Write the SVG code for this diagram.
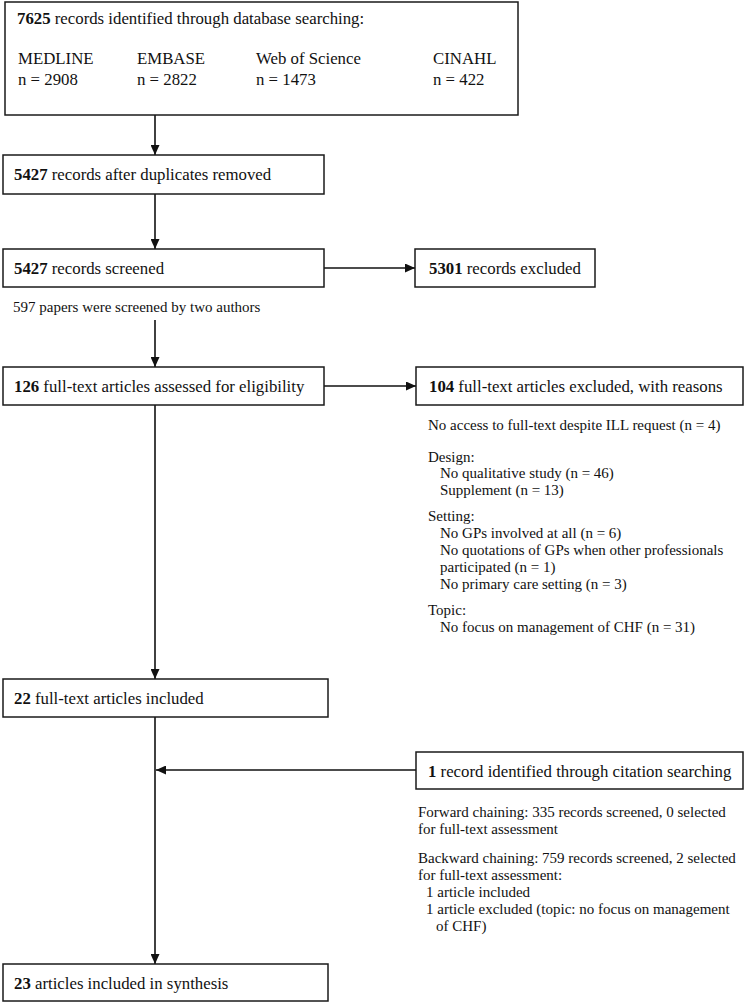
<svg xmlns="http://www.w3.org/2000/svg" width="750" height="1004" viewBox="0 0 750 1004">
<style>
.box{fill:#fff;stroke:#1a1a1a;stroke-width:1.5}
.t{font-family:"Liberation Serif","Times New Roman",serif;font-size:16.8px;fill:#111}
.s{font-family:"Liberation Serif","Times New Roman",serif;font-size:15px;fill:#111}
.b{font-weight:bold}
.c{stroke:#111;stroke-width:1.6;fill:none}
</style>
<defs>
<marker id="ah" markerUnits="userSpaceOnUse" markerWidth="10" markerHeight="9" refX="10" refY="4.5" orient="auto">
<path d="M0,0 L10,4.5 L0,9 z" fill="#111"/>
</marker>
</defs>
<rect width="750" height="1004" fill="#fff"/>

<g id="connectors">
<line class="c" x1="155" y1="115" x2="155" y2="155" marker-end="url(#ah)"/>
<line class="c" x1="155" y1="194" x2="155" y2="249" marker-end="url(#ah)"/>
<line class="c" x1="324" y1="268" x2="415" y2="268" marker-end="url(#ah)"/>
<line class="c" x1="155" y1="320" x2="155" y2="367" marker-end="url(#ah)"/>
<line class="c" x1="324" y1="386" x2="416" y2="386" marker-end="url(#ah)"/>
<line class="c" x1="155" y1="405" x2="155" y2="679" marker-end="url(#ah)"/>
<line class="c" x1="155" y1="717" x2="155" y2="964" marker-end="url(#ah)"/>
<line class="c" x1="416" y1="770" x2="156" y2="770" marker-end="url(#ah)"/>
</g>

<g id="n-identified">
<rect class="box" x="5" y="2" width="513" height="113"/>
<text class="t" x="17" y="24"><tspan class="b">7625</tspan> records identified through database searching:</text>
<text class="t" x="18" y="64">MEDLINE</text>
<text class="t" x="18" y="85">n = 2908</text>
<text class="t" x="137" y="64">EMBASE</text>
<text class="t" x="137" y="85">n = 2822</text>
<text class="t" x="256" y="64">Web of Science</text>
<text class="t" x="256" y="85">n = 1473</text>
<text class="t" x="433" y="64">CINAHL</text>
<text class="t" x="433" y="85">n = 422</text>
</g>

<g id="n-duplicates">
<rect class="box" x="3" y="155" width="321" height="39"/>
<text class="t" x="14" y="180"><tspan class="b">5427</tspan> records after duplicates removed</text>
</g>

<g id="n-screened">
<rect class="box" x="3" y="249" width="321" height="38"/>
<text class="t" x="14" y="274"><tspan class="b">5427</tspan> records screened</text>
<text class="s" x="13" y="312">597 papers were screened by two authors</text>
</g>

<g id="n-excluded">
<rect class="box" x="415" y="249" width="180" height="38"/>
<text class="t" x="429" y="274"><tspan class="b">5301</tspan> records excluded</text>
</g>

<g id="n-assessed">
<rect class="box" x="3" y="367" width="321" height="38"/>
<text class="t" x="14" y="392"><tspan class="b">126</tspan> full-text articles assessed for eligibility</text>
</g>

<g id="n-ft-excluded">
<rect class="box" x="416" y="367" width="327" height="38"/>
<text class="t" x="429" y="392"><tspan class="b">104</tspan> full-text articles excluded, with reasons</text>
<text class="s" x="428" y="430">No access to full-text despite ILL request (n = 4)</text>
<text class="s" x="428" y="462">Design:</text>
<text class="s" x="440" y="478">No qualitative study (n = 46)</text>
<text class="s" x="440" y="495">Supplement (n = 13)</text>
<text class="s" x="428" y="521">Setting:</text>
<text class="s" x="440" y="538">No GPs involved at all (n = 6)</text>
<text class="s" x="440" y="555">No quotations of GPs when other professionals</text>
<text class="s" x="440" y="572">participated (n = 1)</text>
<text class="s" x="440" y="589">No primary care setting (n = 3)</text>
<text class="s" x="428" y="615">Topic:</text>
<text class="s" x="440" y="632">No focus on management of CHF (n = 31)</text>
</g>

<g id="n-included">
<rect class="box" x="3" y="679" width="325" height="38"/>
<text class="t" x="14" y="704"><tspan class="b">22</tspan> full-text articles included</text>
</g>

<g id="n-citation">
<rect class="box" x="416" y="752" width="327" height="37"/>
<text class="t" x="428" y="777"><tspan class="b">1</tspan> record identified through citation searching</text>
<text class="s" x="418" y="817">Forward chaining: 335 records screened, 0 selected</text>
<text class="s" x="418" y="834">for full-text assessment</text>
<text class="s" x="418" y="863">Backward chaining: 759 records screened, 2 selected</text>
<text class="s" x="418" y="880">for full-text assessment:</text>
<text class="s" x="426" y="897">1 article included</text>
<text class="s" x="426" y="914">1 article excluded (topic: no focus on management</text>
<text class="s" x="436" y="931">of CHF)</text>
</g>

<g id="n-synthesis">
<rect class="box" x="3" y="964" width="325" height="37"/>
<text class="t" x="14" y="989"><tspan class="b">23</tspan> articles included in synthesis</text>
</g>
</svg>
